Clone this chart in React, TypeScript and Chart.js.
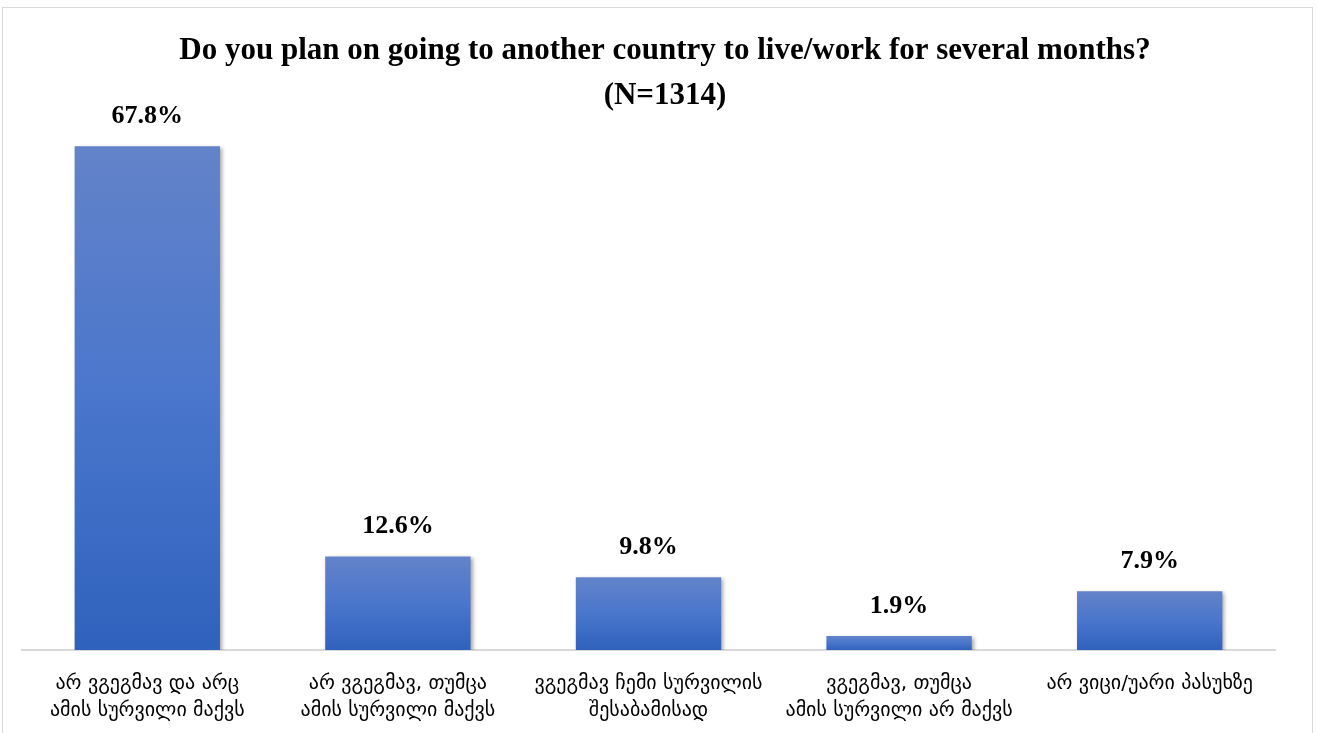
import React, { useEffect, useRef } from "react";
import { Chart, registerables } from "chart.js";

Chart.register(...registerables);

const titleLines = [
  "Do you plan on going to another country to live/work for several months?",
  "(N=1314)",
];
const categories: string[][] = [
  ["არ ვგეგმავ და არც", "ამის სურვილი მაქვს"],
  ["არ ვგეგმავ, თუმცა", "ამის სურვილი მაქვს"],
  ["ვგეგმავ ჩემი სურვილის", "შესაბამისად"],
  ["ვგეგმავ, თუმცა", "ამის სურვილი არ მაქვს"],
  ["არ ვიცი/უარი პასუხზე"],
];
const values = [67.8, 12.6, 9.8, 1.9, 7.9];
const valueLabels = ["67.8%", "12.6%", "9.8%", "1.9%", "7.9%"];

const TITLE_FONT = "bold 31px 'Liberation Serif', 'DejaVu Serif', serif";

const shadowPlugin = {
  id: "barShadow",
  beforeDatasetsDraw(chart: any) {
    const ctx = chart.ctx;
    ctx.save();
    ctx.shadowColor = "rgba(0,0,0,0.35)";
    ctx.shadowBlur = 4;
    ctx.shadowOffsetX = 2;
    ctx.shadowOffsetY = 2;
  },
  afterDatasetsDraw(chart: any) {
    chart.ctx.restore();
  },
};

const valueLabelPlugin = {
  id: "valueLabels",
  afterDatasetsDraw(chart: any) {
    const ctx = chart.ctx;
    const meta = chart.getDatasetMeta(0);
    ctx.save();
    ctx.shadowColor = "transparent";
    ctx.fillStyle = "#000000";
    ctx.font = "bold 26px 'Liberation Serif', 'DejaVu Serif', serif";
    ctx.textAlign = "center";
    ctx.textBaseline = "middle";
    meta.data.forEach((bar: any, i: number) => {
      ctx.fillText(valueLabels[i], bar.x, bar.y - 30);
    });
    ctx.restore();
  },
};

const centeredTitlePlugin = {
  id: "centeredTitle",
  afterDraw(chart: any) {
    const ctx = chart.ctx;
    ctx.save();
    ctx.fillStyle = "#000000";
    ctx.font = TITLE_FONT;
    ctx.textAlign = "center";
    ctx.textBaseline = "middle";
    const cx = 665;
    titleLines.forEach((line, i) => {
      ctx.fillText(line, cx, 51 + i * 45);
    });
    ctx.restore();
  },
};

export default function App() {
  const ref = useRef<HTMLCanvasElement | null>(null);
  useEffect(() => {
    document.body.style.margin = "0";
    const canvas = ref.current!;
    const chart = new Chart(canvas, {
      type: "bar",
      data: {
        labels: categories,
        datasets: [
          {
            data: values,
            barPercentage: 0.58,
            categoryPercentage: 1,
            backgroundColor: (c: any) => {
              if (c.type !== "data") return "#4472c4";
              const chartObj = c.chart;
              const y = chartObj.scales.y;
              if (!y || !chartObj.chartArea) return "#4472c4";
              const top = y.getPixelForValue(c.raw);
              const bottom = y.getPixelForValue(0);
              const g = chartObj.ctx.createLinearGradient(0, top, 0, bottom);
              g.addColorStop(0, "#6383c9");
              g.addColorStop(0.5, "#4a76cc");
              g.addColorStop(1, "#2f62bd");
              return g;
            },
          },
        ],
      },
      options: {
        responsive: true,
        maintainAspectRatio: false,
        animation: false,
        layout: { padding: { left: 22, right: 42, bottom: 0, top: 0 } },
        plugins: {
          legend: { display: false },
          tooltip: { enabled: false },
          title: {
            display: true,
            text: titleLines,
            color: "rgba(0,0,0,0)",
            font: {
              family: "'Liberation Serif', 'DejaVu Serif', serif",
              size: 31,
              weight: "bold",
              lineHeight: 1.45,
            },
            padding: { top: 30, bottom: 10 },
          },
        },
        scales: {
          y: {
            display: false,
            min: 0,
            max: 70,
          },
          x: {
            grid: { display: false, drawTicks: false },
            border: { display: true, color: "#d9d9d9", width: 2 },
            afterFit: (scale: any) => {
              scale.height = 83;
            },
            ticks: {
              color: "#000000",
              padding: 20,
              maxRotation: 0,
              autoSkip: false,
              font: { family: "'DejaVu Sans', sans-serif", size: 20, lineHeight: 1.35 },
            },
          },
        },
      },
      plugins: [shadowPlugin, valueLabelPlugin, centeredTitlePlugin],
    });
    return () => chart.destroy();
  }, []);
  return (
    <div
      style={{
        position: "fixed",
        left: 0,
        top: 0,
        width: 1317,
        height: 733,
        background: "#ffffff",
      }}
    >
      <div
        style={{
          position: "absolute",
          left: 2,
          top: 7,
          width: 1311,
          height: 740,
          border: "1px solid #d9d9d9",
          boxSizing: "border-box",
        }}
      />
      <div style={{ position: "absolute", left: 0, top: 0, width: 1317, height: 733 }}>
        <canvas ref={ref} />
      </div>
    </div>
  );
}
